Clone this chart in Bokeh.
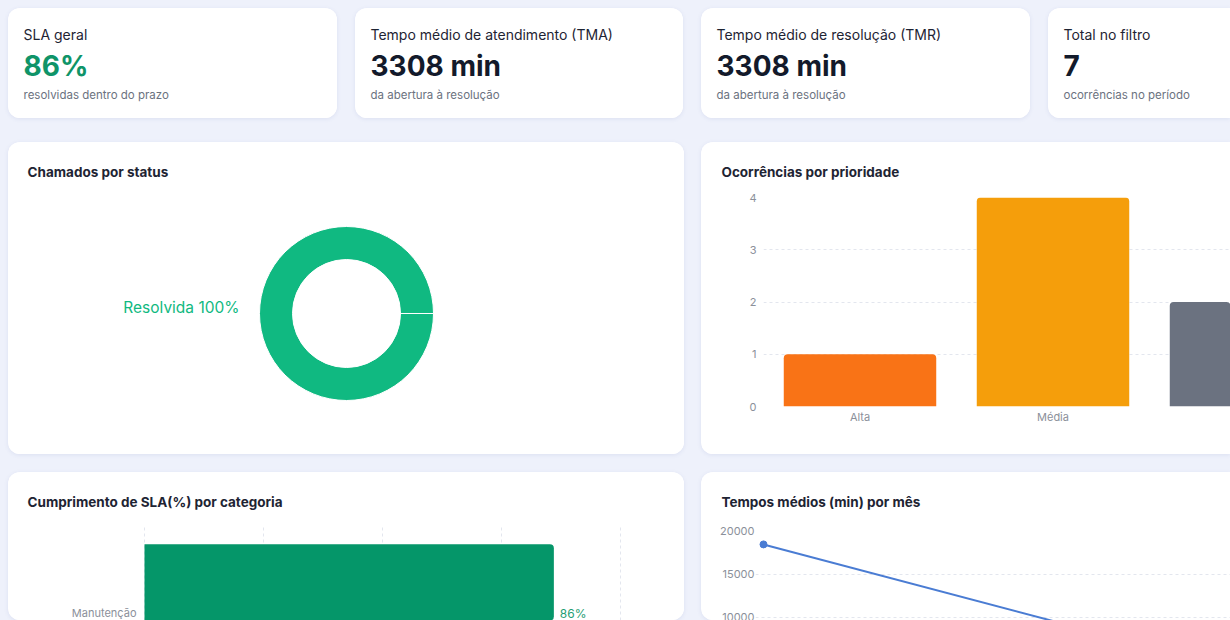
from bokeh.plotting import figure
from bokeh.layouts import row, column
from bokeh.models import Range1d, Label, FixedTicker, Grid
from bokeh.core.properties import value
from bokeh.embed import file_html
from bokeh.resources import INLINE

# ---- data -------------------------------------------------------------
kpi_titles = ["SLA geral", "Tempo médio de atendimento (TMA)",
              "Tempo médio de resolução (TMR)", "Total no filtro"]
kpi_values = ["86%", "3308 min", "3308 min", "7"]
kpi_notes = ["resolvidas dentro do prazo", "da abertura à resolução",
             "da abertura à resolução", "ocorrências no período"]

status_labels = ["Resolvida"]
status_counts = [7]

priority_labels = ["Alta", "Média", "Baixa"]
priority_counts = [1, 4, 2]

sla_categories = ["Manutenção"]
sla_percent = [86]

month_index = [0, 1]
avg_minutes = [18400, 793]

chart_titles = ["Chamados por status", "Ocorrências por prioridade",
                "Cumprimento de SLA(%) por categoria", "Tempos médios (min) por mês"]

# ---- style ------------------------------------------------------------
FONT = "Inter"
BG = "#eef1fb"
INK = "#1e2433"
MUTED = "#6b7280"
TICK = "#8b909a"
GRID = "#e3e6ee"
CARD_CSS = {"border-radius": "12px", "overflow": "hidden",
            "box-shadow": "0 1px 4px rgba(90, 105, 170, 0.12)",
            "background-color": "white"}
CARD_CSS_OPEN = dict(CARD_CSS, **{"border-radius": "12px 0 0 12px"})
HEAD_H = 48


def plain(w, h, **kw):
    p = figure(width=w, height=h, output_backend="svg", toolbar_location=None,
               title=None, min_border=0, **kw)
    p.outline_line_color = None
    p.border_fill_color = "white"
    p.background_fill_color = "white"
    return p


def blank(w, h):
    p = plain(w, h, x_range=Range1d(0, 1), y_range=Range1d(0, 1),
              x_axis_location=None, y_axis_location=None)
    for g in p.xgrid + p.ygrid:
        g.visible = False
    return p


def label(p, x, y, text, size, color=INK, bold=False):
    p.add_layout(Label(x=x, y=y, x_units="canvas", y_units="canvas", text=text,
                       text_font=FONT, text_font_style="bold" if bold else "normal",
                       text_font_size=size, text_color=color, text_baseline="middle"))


def chart_card(title, body, w, open_right=False, title_x=19):
    head = blank(w, HEAD_H)
    label(head, title_x, 29, title, "13.5px", bold=True)
    # the body sits in its own column so its frame is laid out independently
    return column([head, column([body], spacing=0)], spacing=0,
                  styles=CARD_CSS_OPEN if open_right else CARD_CSS)


def style_axis(ax, standoff):
    ax.axis_line_color = None
    ax.major_tick_line_color = None
    ax.minor_tick_line_color = None
    ax.major_tick_out = 0
    ax.major_tick_in = 0
    ax.minor_tick_out = 0
    ax.major_label_text_font = FONT
    ax.major_label_text_font_size = "11px"
    ax.major_label_text_color = TICK
    ax.major_label_standoff = standoff


# ---- KPI cards --------------------------------------------------------
kpi_widths = [329, 328, 329, 182]
kpi_colors = ["#0f9468", "#131a2b", "#131a2b", "#131a2b"]
kpis = []
for i, w in enumerate(kpi_widths):
    p = blank(w, 110)
    p.styles = CARD_CSS_OPEN if i == 3 else CARD_CSS
    label(p, 15, 26, kpi_titles[i], "14px")
    label(p, 15, 57, kpi_values[i], "28px", color=kpi_colors[i], bold=True)
    label(p, 15, 86, kpi_notes[i], "11.5px", color=MUTED)
    kpis.append(p)

# ---- status donut -----------------------------------------------------
outer_r, inner_r = 87, 54
body_h = 312 - HEAD_H
p_status = plain(676, body_h, x_range=Range1d(-338, 338),
                 y_range=Range1d(-(312 - 171), 171 - HEAD_H),
                 x_axis_location=None, y_axis_location=None)
for g in p_status.xgrid + p_status.ygrid:
    g.visible = False
total = sum(status_counts)
starts, ends, acc = [], [], 0.0
for c in status_counts:
    starts.append(acc / total * 6.283185307179586)
    acc += c
    ends.append(acc / total * 6.283185307179586)
p_status.annular_wedge(x=0, y=0, inner_radius=inner_r, outer_radius=outer_r,
                       start_angle=starts, end_angle=ends, fill_color="#10b981",
                       line_color="white", line_width=1)
p_status.text(x=[-(outer_r + 20)] * len(status_labels), y=[6] * len(status_labels),
              text=[f"{s} {round(100 * c / total)}%" for s, c in zip(status_labels, status_counts)],
              text_align="right", text_baseline="middle", text_font=value(FONT),
              text_font_size="15.5px", text_color="#10b981")
card_status = chart_card(chart_titles[0], p_status, 676)

# ---- priority bars ----------------------------------------------------
band_px = 193
frame_w = 529 - 62
p_prio = plain(529, body_h, x_range=Range1d(0, frame_w / band_px), y_range=Range1d(0, 4))
p_prio.min_border_left = 62
p_prio.min_border_top = 55 - HEAD_H
p_prio.min_border_bottom = 48
p_prio.vbar(x=[i + 0.5 for i in range(len(priority_labels))], top=priority_counts,
            width=0.79, fill_color=["#f97316", "#f59e0b", "#6b7280"], line_color=None,
            border_radius=(4, 4, 0, 0))
p_prio.yaxis.ticker = FixedTicker(ticks=[0, 1, 2, 3, 4])
p_prio.xaxis.ticker = FixedTicker(ticks=[i + 0.5 for i in range(len(priority_labels))])
p_prio.xaxis.major_label_overrides = {i + 0.5: s for i, s in enumerate(priority_labels)}
style_axis(p_prio.yaxis[0], 7)
style_axis(p_prio.xaxis[0], 3)
p_prio.xgrid.visible = False
p_prio.ygrid.grid_line_color = GRID
p_prio.ygrid.grid_line_dash = "3 3"
card_prio = chart_card(chart_titles[1], p_prio, 529, open_right=True, title_x=20)

# ---- SLA by category --------------------------------------------------
band_h = 178
low_h = 148 - HEAD_H
frame_h = 148 - 53
pct_px = 476 / 100       # pixels per percentage point
edge = 2                 # breathing room so the 0 and 100 grid lines stay whole
p_sla = plain(676, low_h,
              x_range=Range1d(-edge / pct_px, 100 + edge / pct_px),
              y_range=Range1d(1 - frame_h / band_h, 1),
              x_axis_location=None)
for g in p_sla.xgrid + p_sla.ygrid:
    g.visible = False
p_sla.min_border_left = 136 - edge
p_sla.min_border_top = 53 - HEAD_H
p_sla.min_border_right = 64 - edge
p_sla.add_layout(Grid(dimension=0, ticker=FixedTicker(ticks=[0, 25, 50, 75, 100]),
                      grid_line_color=GRID, grid_line_dash="3 3"))
p_sla.hbar(y=[i + 0.5 for i in range(len(sla_categories))], left=0, right=sla_percent,
           height=0.79, fill_color="#059669", line_color=None, border_radius=(0, 4, 4, 0))
p_sla.text(x=sla_percent, y=[i + 0.5 for i in range(len(sla_categories))],
           text=[f"{v}%" for v in sla_percent], x_offset=6, y_offset=-1,
           text_baseline="middle", text_font=value(FONT), text_font_size="12px",
           text_color="#1f9e74")
p_sla.yaxis.ticker = FixedTicker(ticks=[i + 0.5 for i in range(len(sla_categories))])
p_sla.yaxis.major_label_overrides = {i + 0.5: s for i, s in enumerate(sla_categories)}
style_axis(p_sla.yaxis[0], 8 - edge)
card_sla = chart_card(chart_titles[2], p_sla, 676)

# ---- average times per month -----------------------------------------
month_px = 579
left_pad = 8
t_frame_w = 529 - 54
px_per_min = 43.5 / 5000
t_frame_h = 148 - 58
x0 = -left_pad / month_px
p_time = plain(529, low_h,
               x_range=Range1d(x0, x0 + t_frame_w / month_px),
               y_range=Range1d(20000 - t_frame_h / px_per_min, 20000),
               x_axis_location=None)
for g in p_time.xgrid + p_time.ygrid:
    g.visible = False
p_time.min_border_left = 54
p_time.min_border_top = 58 - HEAD_H
p_time.yaxis.ticker = FixedTicker(ticks=[0, 5000, 10000, 15000, 20000])
style_axis(p_time.yaxis[0], 1)
p_time.add_layout(Grid(dimension=1, ticker=p_time.yaxis[0].ticker,
                       grid_line_color=GRID, grid_line_dash="3 3"))
p_time.line(x=month_index, y=avg_minutes, line_color="#4a7cd3", line_width=2)
p_time.scatter(x=month_index, y=avg_minutes, size=7, fill_color="#4a7cd3", line_color="#4a7cd3")
card_time = chart_card(chart_titles[3], p_time, 529, open_right=True, title_x=20)

# ---- page -------------------------------------------------------------
row1 = row(kpis, spacing=18, margin=(8, 0, 0, 8))
row2 = row([card_status, card_prio], spacing=17, margin=(24, 0, 0, 8))
row3 = row([card_sla, card_time], spacing=17, margin=(18, 0, 0, 8))
page = column([row1, row2, row3], spacing=0, width=1230, height=620,
              styles={"background-color": BG, "overflow": "hidden"})

open("out.html", "w").write(file_html(page, INLINE))
